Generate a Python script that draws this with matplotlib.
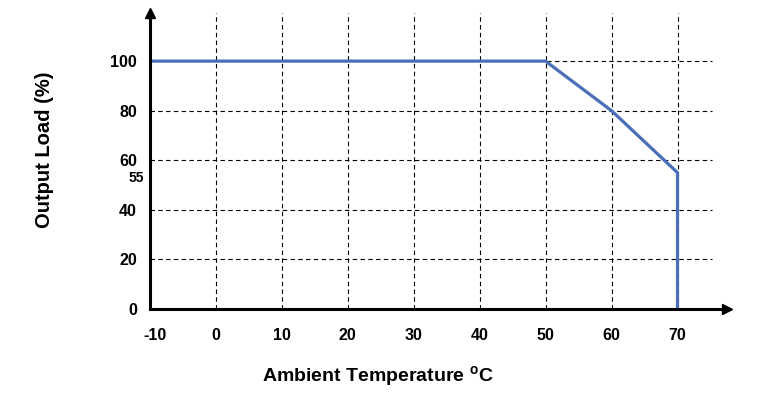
import matplotlib
matplotlib.use("Agg")
import matplotlib.pyplot as plt
import matplotlib.transforms as mtransforms

plt.rcParams['font.family'] = ['Liberation Sans', 'DejaVu Sans']
plt.rcParams['font.weight'] = 'bold'
plt.rcParams['mathtext.fontset'] = 'custom'
plt.rcParams['mathtext.bf'] = 'Liberation Sans:bold'
plt.rcParams['mathtext.rm'] = 'Liberation Sans:bold'

# Data
temps = [-10, 50, 60, 70, 70]
loads = [100, 100, 80, 55, 0]
x_ticks = [-10, 0, 10, 20, 30, 40, 50, 60, 70]
y_ticks = [0, 20, 40, 60, 80, 100]
x_grid = [0, 10, 20, 30, 40, 50, 60, 70]
y_grid = [20, 40, 60, 80, 100]

W, H = 777, 397
fig = plt.figure(figsize=(W / 100, H / 100), dpi=100)
x0_px, x1_px = 149.5, 727
y0_px, y1_px = 309, 13
ax = fig.add_axes([x0_px / W, (H - y0_px) / H, (x1_px - x0_px) / W, (y0_px - y1_px) / H])
xmax = 77.5
ymax = 119.4
ax.set_xlim(-10, xmax)
ax.set_ylim(0, ymax)

# grid
for xv in x_grid:
    ax.plot([xv, xv], [0, ymax], color='black', lw=0.8, dashes=(4, 3), zorder=1)
for yv in y_grid:
    ax.plot([-10, 75.2], [yv, yv], color='black', lw=0.8, dashes=(4, 3), zorder=1)

# curve
ax.plot(temps, loads, color='#4A6FB8', lw=2.3, zorder=3, solid_joinstyle='miter')

# axes
for s in ['top', 'right']:
    ax.spines[s].set_visible(False)
for s in ['left', 'bottom']:
    ax.spines[s].set_linewidth(2.2)
    ax.spines[s].set_zorder(4)
ax.plot(1, 0, marker='>', color='black', markersize=7, transform=ax.transAxes, clip_on=False, zorder=5)
ax.plot(0, 1, marker='^', color='black', markersize=7, transform=ax.transAxes, clip_on=False, zorder=5)

ax.set_xticks(x_ticks)
ax.set_yticks(y_ticks)
ax.set_xticklabels([str(v) for v in x_ticks], fontsize=11.5, fontweight='bold')
ax.set_yticklabels([str(v) for v in y_ticks], fontsize=11.5, fontweight='bold')
ax.tick_params(axis='both', length=0)
ax.tick_params(axis='x', pad=14)
ax.tick_params(axis='y', pad=9)
off = mtransforms.ScaledTranslation(6 / 100, 0, fig.dpi_scale_trans)
for lbl in ax.get_xticklabels():
    if lbl.get_text() == '-10':
        lbl.set_transform(lbl.get_transform() + off)

# 55 label
fig.text(144 / W, 1 - 178 / H, '55', fontsize=10, fontweight='bold', ha='right', va='center')

fig.text(378 / W, 1 - 377 / H, r'Ambient Temperature $^{\mathbf{o}}$C', fontsize=14,
         fontweight='bold', ha='center', va='center')
fig.text(45 / W, 1 - 150 / H, 'Output Load (%)', fontsize=14.5, fontweight='bold',
         ha='center', va='center', rotation=90)

fig.savefig('out.png', dpi=100)
